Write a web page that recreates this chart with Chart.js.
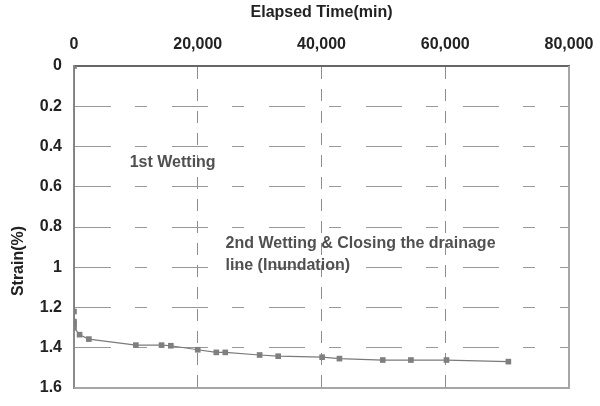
<!DOCTYPE html>
<html>
<head>
<meta charset="utf-8">
<script src="https://cdn.jsdelivr.net/npm/chart.js@4/dist/chart.umd.min.js"></script>
<style>
  html, body { margin: 0; padding: 0; background: #fff; }
  #wrap { width: 600px; height: 406px; }
</style>
</head>
<body>
<div id="wrap"><canvas id="c" width="600" height="406"></canvas></div>
<script>
// ---- Data ----
const elapsedTime = [0, 0, 0, 0, 0, 900, 2400, 10000, 14150, 15650, 20000, 23000, 24450, 30000, 33000, 40100, 42900, 49900, 54450, 60200, 70200];
const strain      = [0, 1.22, 1.27, 1.28, 1.30, 1.335, 1.357, 1.387, 1.387, 1.39, 1.41, 1.423, 1.423, 1.436, 1.442, 1.447, 1.454, 1.461, 1.461, 1.461, 1.469];

const xTickLabels = ['0', '20,000', '40,000', '60,000', '80,000'];
const yTickLabels = ['0', '0.2', '0.4', '0.6', '0.8', '1', '1.2', '1.4', '1.6'];
const xStep = 20000;
const yStep = 0.2;

const xTitle = 'Elapsed Time(min)';
const yTitle = 'Strain(%)';

// annotation texts anchored at data coordinates
const noteTexts = ['1st Wetting', '2nd Wetting & Closing the drainage', 'line (Inundation)'];
const noteX     = [9000, 24500, 24500];
const noteY     = [0.482, 0.88, 0.99];

const points = elapsedTime.map((t, i) => ({ x: t, y: strain[i] }));

const FONT = "'Liberation Sans', Arial, sans-serif";

const framePlugin = {
  id: 'frame',
  afterDatasetsDraw(chart) {
    const { ctx, chartArea: a } = chart;
    ctx.save();
    ctx.strokeStyle = '#a6a6a6';
    ctx.lineWidth = 2;
    ctx.beginPath();
    ctx.moveTo(a.right, a.top);
    ctx.lineTo(a.right, a.bottom + 1);
    ctx.stroke();
    ctx.beginPath();
    ctx.moveTo(a.left, a.bottom);
    ctx.lineTo(a.right + 1, a.bottom);
    ctx.stroke();
    ctx.restore();
  },
  afterDraw(chart) {
    const { ctx, scales } = chart;
    ctx.save();
    ctx.font = 'bold 16px ' + FONT;
    ctx.fillStyle = '#505050';
    ctx.textAlign = 'left';
    ctx.textBaseline = 'middle';
    noteTexts.forEach((t, i) => {
      ctx.fillText(t, scales.x.getPixelForValue(noteX[i]), scales.y.getPixelForValue(noteY[i]));
    });
    ctx.translate(19, 261);
    ctx.rotate(-Math.PI / 2);
    ctx.fillStyle = '#222222';
    ctx.textAlign = 'center';
    ctx.fillText(yTitle, 0, 0);
    ctx.restore();
  }
};

new Chart(document.getElementById('c'), {
  type: 'scatter',
  data: {
    datasets: [{
      data: points,
      showLine: true,
      borderColor: '#7a7a7a',
      borderWidth: 1.2,
      backgroundColor: '#7f7f7f',
      pointStyle: 'rect',
      pointRadius: 4,
      pointBorderWidth: 0,
      pointHoverRadius: 4,
      tension: 0
    }]
  },
  options: {
    responsive: false,
    animation: false,
    devicePixelRatio: 1,
    layout: { padding: { left: 0, top: 0, right: 31, bottom: 18 } },
    plugins: { legend: { display: false }, tooltip: { enabled: false } },
    scales: {
      x: {
        type: 'linear',
        position: 'top',
        min: 0, max: 80000,
        ticks: {
          stepSize: xStep,
          padding: 12,
          color: '#222222',
          font: { family: FONT, size: 16, weight: 'bold' },
          maxRotation: 0,
          callback: (v) => xTickLabels[Math.round(v / xStep)]
        },
        grid: { color: '#8c8c8c', lineWidth: 1, drawTicks: false },
        border: { display: true, color: '#666666', width: 2, dash: [12, 10] },
        title: {
          display: true, text: xTitle, color: '#222222',
          font: { family: FONT, size: 16, weight: 'bold' },
          padding: { top: 3, bottom: 0 }
        },
        afterFit(scale) { scale.height = 66; scale.paddingLeft = 0; scale.paddingRight = 0; }
      },
      y: {
        type: 'linear',
        reverse: true,
        min: 0, max: 1.6,
        ticks: {
          stepSize: yStep,
          padding: 12,
          color: '#222222',
          font: { family: FONT, size: 16, weight: 'bold' },
          callback: (v) => yTickLabels[Math.round(v / yStep)]
        },
        grid: { color: '#999999', lineWidth: 1, drawTicks: false },
        border: { display: true, color: '#8a8a8a', width: 2, dash: [36, 24, 12, 25] },
        afterFit(scale) { scale.width = 74; scale.paddingTop = 0; scale.paddingBottom = 0; }
      }
    }
  },
  plugins: [framePlugin]
});
</script>
</body>
</html>
